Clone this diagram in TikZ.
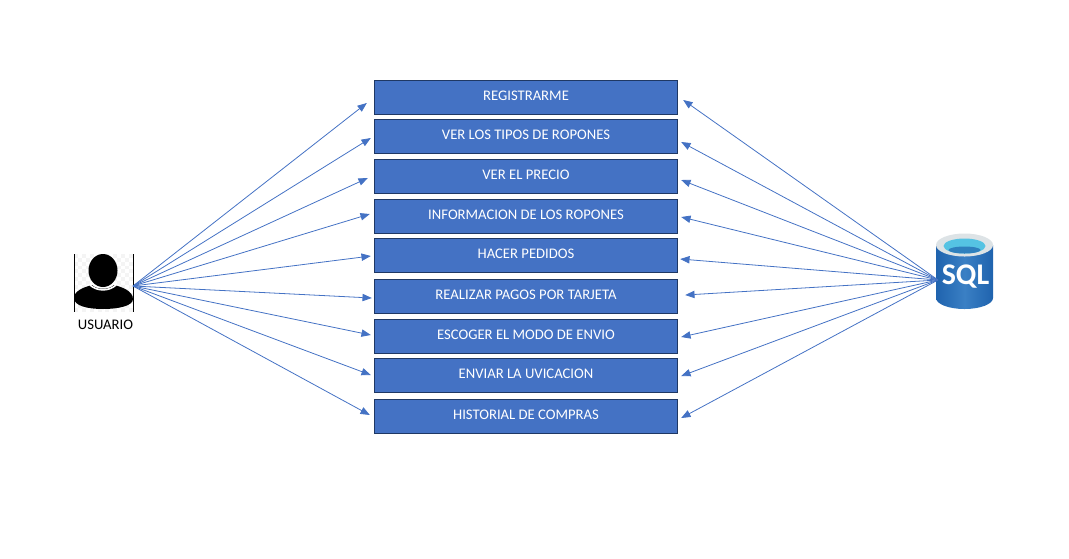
\documentclass[tikz,border=0pt]{standalone}
\usepackage{fontspec}
\setmainfont{Carlito}
\usepackage{xcolor}
\usepackage{tikz}
\usetikzlibrary{arrows.meta,positioning,calc}
\definecolor{azulcaja}{HTML}{4472C4}
\definecolor{bordecaja}{HTML}{1F3864}
\definecolor{azulsql}{HTML}{1F63AE}
\definecolor{azulsqlclaro}{HTML}{3A80C4}
\definecolor{anillosql}{HTML}{DDE3E6}
\definecolor{cianosql}{HTML}{55C3E3}
\tikzset{
  caja/.style   ={rectangle,draw=bordecaja,fill=azulcaja,line width=0.8pt,minimum width=227.5pt,minimum height=25pt,
                  inner sep=0pt,text=white,font=\fontsize{11}{13}\selectfont,text height=7.4pt,text depth=3.4pt},
  flecha/.style ={draw=azulcaja,line width=0.6pt,-{Triangle[length=7pt,width=5.5pt,fill=azulcaja]}},
  rotulo/.style ={inner sep=0pt,font=\fontsize{11}{13}\selectfont},
  icono/.style  ={inner sep=0pt,minimum width=44pt,minimum height=44pt},
}
\begin{document}
\begin{tikzpicture}[x=0.75pt,y=-0.75pt]
  \useasboundingbox (0,0) rectangle (1069,558);
  % opciones
  \node[caja] (registro)  at (526,97.5)  {REGISTRARME};
  \node[caja] (tipos)     at (526,136.5) {VER LOS TIPOS DE ROPONES};
  \node[caja] (precio)    at (526,176.5) {VER EL PRECIO};
  \node[caja] (info)      at (526,216.5) {INFORMACION DE LOS ROPONES};
  \node[caja] (pedidos)   at (526,255.5) {HACER PEDIDOS};
  \node[caja] (pagos)     at (526,296.5) {REALIZAR PAGOS POR TARJETA};
  \node[caja] (envio)     at (526,336.5) {ESCOGER EL MODO DE ENVIO};
  \node[caja] (ubicacion) at (526,375.5) {ENVIAR LA UVICACION};
  \node[caja] (historial) at (526,416.5) {HISTORIAL DE COMPRAS};
  % usuario
  \foreach \i in {0,...,14}
    \foreach \j in {0,...,14} {
      \pgfmathtruncatemacro{\suma}{\i+\j}
      \ifodd\suma\else
        \fill[gray!9] (74+3.93*\i,254+3.87*\j) rectangle ++(3.93,3.87);
      \fi
    }
  \draw[black,line width=0.5pt] (74,254) -- (74,312) (133,254) -- (133,312);
  \fill[white] (103,288) ellipse (19 and 6);
  \fill[black] (74,298) .. controls (74,291) and (84,287) .. (92,285)
     .. controls (97,290) and (109,290) .. (114,285)
     .. controls (122,287) and (133,291) .. (133,299)
     .. controls (133,306) and (118,309) .. (103,309)
     .. controls (88,309) and (74,306) .. (74,298) -- cycle;
  \draw[white,line width=1.2pt] (90,285) .. controls (97,291.5) and (109,291.5) .. (116,285);
  \fill[black] (103,270.5) ellipse (14.5 and 16.5);
  \node[icono] (usuario) at (105.5,283) {};
  \node[rotulo,below=5pt of usuario] (nombre) {USUARIO};
  \coordinate (salidausr) at (133,286);
  % base de datos
  \shade[left color=azulsql,right color=azulsql,middle color=azulsqlclaro]
    (936,245) -- (936,298) arc[start angle=180,end angle=0,x radius=28.5,y radius=11] -- (993,245) -- cycle;
  \fill[anillosql] (964.5,245) ellipse (28.5 and 11.5);
  \fill[cianosql] (964.5,246) ellipse (21 and 7.5);
  \fill[azulsql!70!cianosql] (964.5,250) ellipse (16 and 3.5);
  \node[icono,minimum width=43pt,minimum height=57pt] (sql) at (964.5,271) {};
  \node[inner sep=0pt,text=white,font=\fontsize{22.5}{24}\selectfont\bfseries] (sqltexto) at (965.5,277) {SQL};
  \coordinate (salidasql) at (938,280);
  % flechas
  \foreach \destino/\dx/\dy in {registro/-7/5.5,tipos/-3/1.5,precio/-6/1.5,info/-4/-2.5,pedidos/-3/0.5,pagos/-2/1.5,envio/-3/-1.5,ubicacion/-3/-0.5,historial/-4/-1.5}
    \draw[flecha] (salidausr) -- ([shift={(\dx,\dy)}]\destino.west);
  \foreach \destino/\dx/\dy in {registro/5/2.5,tipos/3/5.5,precio/3/3.5,info/3/0.5,pedidos/2/3.5,pagos/7/-1.5,envio/3/0.5,ubicacion/3/0.5,historial/3/1.5}
    \draw[flecha] (salidasql) -- ([shift={(\dx,\dy)}]\destino.east);
\end{tikzpicture}
\end{document}
